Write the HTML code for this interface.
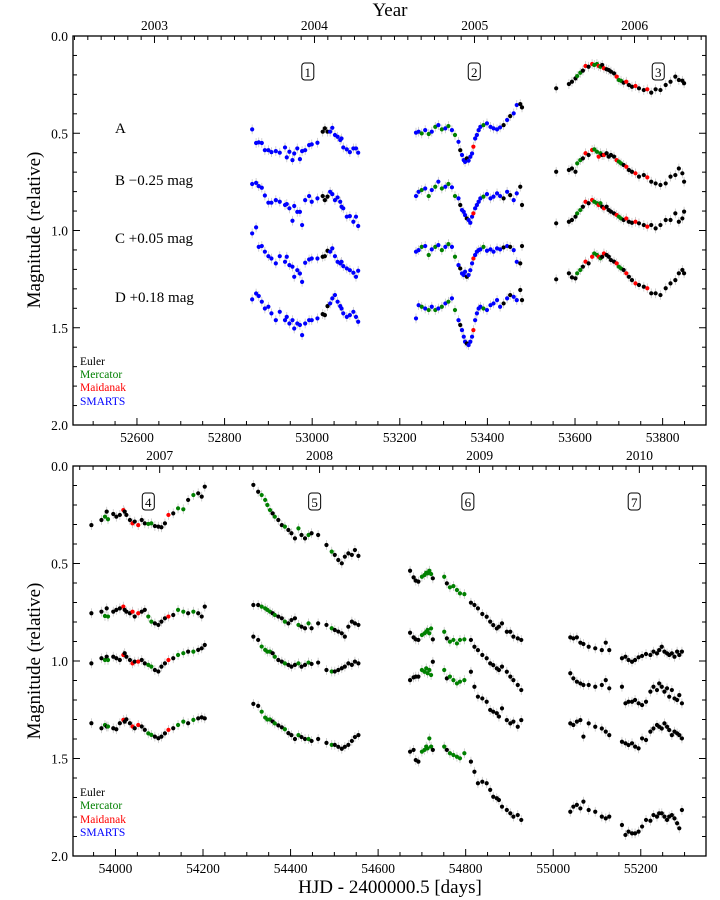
<!DOCTYPE html>
<html><head><meta charset="utf-8"><style>
body{margin:0;background:#fff;}
svg{display:block;font-family:"Liberation Serif",serif;}
</style></head><body>
<svg id="chart" width="720" height="900" viewBox="0 0 720 900" xmlns="http://www.w3.org/2000/svg">
<text x="390" y="16" font-size="19" text-anchor="middle">Year</text>
<text x="390" y="893" font-size="19" text-anchor="middle">HJD - 2400000.5 [days]</text>
<text transform="translate(40,230) rotate(-90)" font-size="19" text-anchor="middle">Magnitude (relative)</text>
<text transform="translate(40,661) rotate(-90)" font-size="19" text-anchor="middle">Magnitude (relative)</text>
<g font-size="15">
<text x="115" y="133">A</text>
<text x="115" y="185">B −0.25 mag</text>
<text x="115" y="243">C +0.05 mag</text>
<text x="115" y="302">D +0.18 mag</text>
</g>
<g font-size="11.5">
<text x="80" y="365" fill="#000">Euler</text>
<text x="80" y="378" fill="#008000">Mercator</text>
<text x="80" y="391" fill="#ff0000">Maidanak</text>
<text x="80" y="405" fill="#0000ff">SMARTS</text>
</g>
<g font-size="11.5">
<text x="80" y="796" fill="#000">Euler</text>
<text x="80" y="809" fill="#008000">Mercator</text>
<text x="80" y="823" fill="#ff0000">Maidanak</text>
<text x="80" y="836" fill="#0000ff">SMARTS</text>
</g>
</svg>
<script>
const instColors = ["#000000","#008000","#ff0000","#0000ff"];
const yTickLabels = ["0.0","0.5","1.0","1.5","2.0"];
const topXTicks = [52600,52800,53000,53200,53400,53600,53800];
const botXTicks = [54000,54200,54400,54600,54800,55000,55200];
const topYears = ["2003","2004","2005","2006"];
const topYearDays = [52640,53005,53371,53736];
const botYears = ["2007","2008","2009","2010"];
const botYearDays = [54101,54466,54832,55197];
const topSeasonLabels = ["1","2","3"];
const topSeasonLabelDays = [52990,53370,53790];
const botSeasonLabels = ["4","5","6","7"];
const botSeasonLabelDays = [54075,54455,54805,55185];

const s1Days=[52863,52872,52878,52885,52892,52900,52907,52917,52926,52938,52942,52948,52955,52959,52966,52972,52977,52984,52993,52999,53012,53024,53029,53035,53041,53046,53052,53058,53064,53067,53071,53079,53086,53094,53100,53105];
const s1Inst=[3,3,3,3,3,3,3,3,3,3,3,3,3,3,3,3,3,3,3,3,3,0,0,0,3,3,3,3,3,3,3,3,3,3,3,3];
const s1A=[0.48,0.55,0.547,0.55,0.587,0.587,0.597,0.592,0.60,0.573,0.624,0.595,0.638,0.604,0.578,0.633,0.592,0.587,0.561,0.557,0.549,0.492,0.475,0.492,0.492,0.472,0.509,0.518,0.535,0.527,0.573,0.583,0.597,0.578,0.578,0.60];
const s1B=[0.761,0.755,0.772,0.780,0.820,0.857,0.857,0.844,0.852,0.869,0.864,0.886,0.950,0.874,0.904,0.904,0.972,0.844,0.823,0.852,0.835,0.823,0.844,0.826,0.801,0.813,0.844,0.830,0.852,0.878,0.886,0.929,0.926,0.955,0.929,0.977];
const s1C=[1.015,0.984,1.084,1.080,1.109,1.132,1.144,1.169,1.132,1.161,1.135,1.178,1.186,1.238,1.204,1.221,1.264,1.166,1.149,1.144,1.144,1.135,1.132,1.104,1.109,1.092,1.132,1.161,1.169,1.161,1.183,1.195,1.204,1.217,1.238,1.207];
const s1D=[1.354,1.324,1.337,1.366,1.401,1.392,1.426,1.461,1.418,1.461,1.444,1.478,1.461,1.504,1.478,1.486,1.538,1.478,1.461,1.461,1.452,1.430,1.435,1.389,1.375,1.349,1.332,1.366,1.389,1.401,1.426,1.444,1.435,1.418,1.444,1.469];

const s2Days=[53237,53243,53250,53258,53266,53273,53281,53288,53296,53304,53311,53319,53326,53334,53338,53342,53346,53349,53353,53357,53361,53365,53368,53372,53376,53380,53384,53391,53399,53407,53414,53422,53429,53437,53445,53452,53460,53467,53475,53479];
const s2Inst=[3,3,1,3,1,3,1,3,1,3,1,3,1,3,0,3,3,3,0,3,3,3,2,3,3,3,3,1,3,3,3,3,3,0,3,0,3,3,0,0];
const s2A=[0.497,0.492,0.501,0.484,0.504,0.492,0.467,0.458,0.480,0.475,0.463,0.484,0.509,0.544,0.587,0.612,0.638,0.647,0.629,0.641,0.621,0.604,0.569,0.527,0.509,0.484,0.467,0.458,0.449,0.467,0.475,0.480,0.470,0.458,0.432,0.412,0.398,0.355,0.350,0.367];
const s2B=[0.823,0.801,0.792,0.784,0.823,0.792,0.775,0.749,0.784,0.775,0.761,0.778,0.823,0.835,0.869,0.895,0.904,0.921,0.938,0.946,0.960,0.929,0.912,0.886,0.869,0.852,0.835,0.826,0.813,0.835,0.826,0.809,0.823,0.835,0.801,0.818,0.844,0.809,0.775,0.869];
const s2C=[1.109,1.101,1.084,1.080,1.126,1.097,1.084,1.075,1.101,1.084,1.070,1.084,1.135,1.178,1.195,1.221,1.229,1.212,1.238,1.229,1.204,1.169,1.144,1.126,1.109,1.101,1.097,1.084,1.104,1.097,1.109,1.092,1.097,1.087,1.080,1.084,1.101,1.161,1.169,1.080];
const s2D=[1.452,1.384,1.392,1.401,1.409,1.392,1.409,1.401,1.392,1.375,1.366,1.349,1.409,1.461,1.486,1.512,1.546,1.572,1.581,1.589,1.572,1.546,1.512,1.461,1.426,1.401,1.392,1.401,1.409,1.384,1.375,1.358,1.392,1.375,1.349,1.332,1.341,1.358,1.306,1.358];

const s3Days=[53557,53586,53593,53601,53605,53612,53618,53624,53631,53639,53644,53650,53654,53658,53662,53666,53672,53677,53682,53689,53695,53700,53705,53711,53717,53723,53730,53738,53746,53757,53765,53774,53784,53795,53807,53818,53829,53837,53845,53849];
const s3Inst=[0,0,0,0,1,1,0,2,0,2,1,1,2,1,0,2,0,0,0,0,2,1,1,0,2,0,0,2,0,0,2,0,0,0,0,0,0,0,0,0];
const s3A=[0.269,0.247,0.235,0.218,0.206,0.189,0.178,0.154,0.158,0.144,0.149,0.144,0.154,0.158,0.149,0.166,0.171,0.175,0.183,0.192,0.209,0.226,0.230,0.240,0.235,0.252,0.261,0.257,0.269,0.278,0.274,0.291,0.274,0.278,0.252,0.235,0.209,0.226,0.230,0.243];
const s3B=[0.698,0.689,0.681,0.698,0.655,0.638,0.629,0.603,0.612,0.586,0.583,0.595,0.620,0.603,0.612,0.612,0.603,0.620,0.612,0.620,0.638,0.646,0.655,0.663,0.672,0.689,0.698,0.706,0.723,0.715,0.727,0.749,0.758,0.766,0.758,0.723,0.715,0.681,0.706,0.749];
const s3C=[0.963,0.955,0.946,0.929,0.912,0.895,0.878,0.852,0.860,0.843,0.852,0.860,0.869,0.860,0.878,0.886,0.878,0.895,0.903,0.912,0.920,0.929,0.938,0.946,0.938,0.955,0.960,0.955,0.963,0.972,0.980,0.972,0.989,0.972,0.946,0.946,0.912,0.955,0.938,0.903];
const s3D=[1.251,1.220,1.241,1.246,1.220,1.203,1.186,1.160,1.169,1.135,1.118,1.126,1.135,1.143,1.135,1.118,1.126,1.135,1.152,1.160,1.169,1.186,1.195,1.203,1.220,1.238,1.255,1.272,1.280,1.289,1.297,1.323,1.323,1.332,1.297,1.272,1.255,1.220,1.203,1.220];

const s4Days=[53945,53968,53976,53980,53983,53995,54002,54010,54018,54021,54025,54033,54039,54044,54052,54060,54067,54075,54082,54090,54098,54105,54113,54121,54132,54143,54155,54166,54178,54189,54197,54204];
const s4Inst=[0,0,1,0,1,0,0,0,2,0,0,0,2,0,2,0,0,1,1,0,0,0,0,2,0,1,1,0,1,0,0,0];
const s4A=[0.303,0.277,0.260,0.234,0.273,0.246,0.260,0.251,0.226,0.234,0.251,0.277,0.294,0.285,0.303,0.277,0.294,0.297,0.294,0.308,0.311,0.314,0.294,0.251,0.243,0.217,0.222,0.174,0.149,0.140,0.157,0.106];
const s4B=[0.755,0.747,0.769,0.730,0.772,0.747,0.738,0.730,0.721,0.738,0.747,0.755,0.747,0.772,0.755,0.747,0.738,0.772,0.798,0.807,0.815,0.798,0.781,0.772,0.764,0.738,0.747,0.755,0.747,0.755,0.772,0.721];
const s4C=[1.012,0.986,0.995,0.978,0.995,0.978,0.986,0.995,0.969,0.960,0.978,0.995,1.012,1.003,1.003,0.995,1.012,1.020,1.029,1.046,1.054,1.029,1.012,0.995,0.986,0.969,0.960,0.952,0.952,0.943,0.935,0.918];
const s4D=[1.319,1.345,1.328,1.336,1.336,1.345,1.350,1.319,1.302,1.311,1.299,1.319,1.336,1.345,1.328,1.336,1.353,1.371,1.379,1.388,1.396,1.388,1.371,1.353,1.345,1.328,1.311,1.319,1.302,1.294,1.289,1.294];

const s5Days=[54315,54326,54334,54342,54347,54353,54359,54364,54372,54380,54387,54395,54402,54410,54418,54425,54433,54441,54448,54463,54482,54494,54501,54509,54517,54524,54532,54540,54547,54555];
const s5Inst=[0,0,1,1,1,1,0,1,0,0,1,0,0,0,1,0,0,1,0,0,0,1,0,0,0,0,0,0,0,0];
const s5A=[0.097,0.132,0.149,0.174,0.200,0.226,0.243,0.260,0.277,0.303,0.311,0.328,0.345,0.371,0.320,0.354,0.371,0.354,0.345,0.354,0.405,0.439,0.456,0.482,0.499,0.465,0.448,0.456,0.431,0.461];
const s5B=[0.713,0.713,0.721,0.730,0.738,0.747,0.755,0.764,0.772,0.781,0.798,0.807,0.790,0.781,0.815,0.824,0.832,0.807,0.832,0.807,0.815,0.832,0.841,0.849,0.858,0.875,0.824,0.798,0.807,0.815];
const s5C=[0.875,0.892,0.926,0.943,0.952,0.952,0.960,0.978,0.995,1.003,1.012,1.020,1.029,1.020,1.012,1.029,1.020,1.008,1.015,1.008,1.046,1.054,1.054,1.046,1.037,1.029,1.012,1.020,1.003,1.012];
const s5D=[1.22,1.23,1.26,1.29,1.30,1.30,1.31,1.32,1.33,1.34,1.35,1.37,1.38,1.40,1.38,1.39,1.40,1.40,1.41,1.40,1.42,1.43,1.43,1.44,1.45,1.44,1.43,1.41,1.39,1.38];

const s6Days=[54673,54681,54686,54692,54700,54706,54710,54713,54717,54721,54725,54751,54757,54764,54772,54780,54787,54797,54812,54820,54828,54838,54848,54856,54863,54871,54876,54883,54894,54902,54909,54919,54927];
const s6Inst=[0,0,0,0,1,1,1,1,1,1,0,1,0,1,1,1,1,1,0,0,0,0,0,0,0,0,0,0,0,0,0,0,0];
const s6A=[0.537,0.571,0.588,0.593,0.568,0.559,0.547,0.551,0.537,0.554,0.576,0.568,0.602,0.622,0.616,0.636,0.653,0.657,0.701,0.713,0.730,0.759,0.773,0.798,0.816,0.833,0.824,0.807,0.850,0.850,0.875,0.884,0.892];
const s6B=[0.855,0.879,0.889,0.892,0.867,0.858,0.850,0.841,0.858,0.833,0.889,0.850,0.884,0.901,0.892,0.910,0.892,0.889,0.892,0.927,0.944,0.969,0.986,1.012,1.021,1.038,1.046,1.029,1.055,1.080,1.098,1.123,1.149];
const s6C=[1.098,1.084,1.080,1.080,1.046,1.055,1.038,1.063,1.046,1.072,1.004,1.046,1.089,1.080,1.098,1.115,1.106,1.098,1.055,1.132,1.183,1.192,1.209,1.251,1.260,1.268,1.285,1.243,1.303,1.320,1.311,1.337,1.303];
const s6D=[1.465,1.456,1.508,1.516,1.465,1.456,1.439,1.448,1.397,1.439,1.456,1.439,1.456,1.473,1.482,1.491,1.499,1.473,1.516,1.568,1.627,1.619,1.627,1.661,1.696,1.704,1.713,1.747,1.764,1.781,1.798,1.790,1.815];

const s7Days=[55039,55046,55054,55062,55069,55081,55096,55111,55120,55128,55157,55165,55172,55180,55187,55195,55203,55212,55222,55229,55237,55242,55248,55254,55260,55265,55271,55277,55283,55288,55294];
const s7Inst=[0,0,0,0,0,0,0,0,0,0,0,0,0,0,0,0,0,0,0,0,0,0,0,0,0,0,0,0,0,0,0];
const s7A=[0.879,0.884,0.879,0.906,0.913,0.927,0.935,0.944,0.906,0.944,0.986,0.978,0.995,1.004,0.995,0.981,0.974,0.964,0.969,0.952,0.961,0.944,0.927,0.952,0.961,0.969,0.961,0.978,0.952,0.969,0.952];
const s7B=[1.063,1.089,1.106,1.115,1.123,1.123,1.132,1.123,1.098,1.140,1.132,1.217,1.209,1.209,1.200,1.217,1.226,1.209,1.157,1.132,1.149,1.115,1.132,1.157,1.140,1.183,1.149,1.192,1.200,1.175,1.217];
const s7C=[1.320,1.328,1.311,1.303,1.388,1.320,1.337,1.346,1.362,1.380,1.414,1.422,1.431,1.422,1.439,1.448,1.397,1.405,1.362,1.346,1.328,1.337,1.346,1.320,1.337,1.354,1.380,1.362,1.371,1.380,1.397];
const s7D=[1.773,1.747,1.738,1.756,1.721,1.764,1.773,1.798,1.807,1.798,1.841,1.892,1.875,1.884,1.884,1.875,1.849,1.815,1.819,1.790,1.798,1.781,1.781,1.798,1.815,1.798,1.790,1.807,1.832,1.858,1.764];

const NS="http://www.w3.org/2000/svg";
const svg=document.getElementById("chart");
function mk(tag,attrs,parent){const e=document.createElementNS(NS,tag);for(const k in attrs)e.setAttribute(k,attrs[k]);(parent||svg).appendChild(e);return e;}

const panels=[
 {name:"top",x0:73,x1:706,y0:36,y1:425,d0:52454,d1:53899,ticks:topXTicks,years:topYears,yearDays:topYearDays,sl:topSeasonLabels,sld:topSeasonLabelDays,
  seasons:[[s1Days,s1Inst,[s1A,s1B,s1C,s1D]],[s2Days,s2Inst,[s2A,s2B,s2C,s2D]],[s3Days,s3Inst,[s3A,s3B,s3C,s3D]]]},
 {name:"bottom",x0:73,x1:706,y0:466,y1:856,d0:53903,d1:55349,ticks:botXTicks,years:botYears,yearDays:botYearDays,sl:botSeasonLabels,sld:botSeasonLabelDays,
  seasons:[[s4Days,s4Inst,[s4A,s4B,s4C,s4D]],[s5Days,s5Inst,[s5A,s5B,s5C,s5D]],[s6Days,s6Inst,[s6A,s6B,s6C,s6D]],[s7Days,s7Inst,[s7A,s7B,s7C,s7D]]]}
];

panels.forEach(p=>{
  const xs=d=>p.x0+(d-p.d0)/(p.d1-p.d0)*(p.x1-p.x0);
  const ys=m=>p.y0+m/2*(p.y1-p.y0);
  const g=mk("g",{});
  
  
  for(let d=Math.ceil(p.d0/50)*50; d<=p.d1; d+=50){
    const major=d%200===0;const x=xs(d);const L=major?7:4;
    const t=mk("line",{x1:x,x2:x,y1:p.y1,y2:p.y1-L,stroke:"#000","stroke-width":1},g);
    
    
  }
  p.ticks.forEach(d=>{
    const t=mk("text",{x:xs(d),y:p.y1+17,"font-size":13.5,"text-anchor":"middle"},g);t.textContent=d;
    
    
  });
  const firstYear=p.yearDays[0]-365.25;
  for(let k=0;k<12*6;k++){
    const d=firstYear+k*365.25/12; if(d<p.d0||d>p.d1)continue;
    const major=k%12===0;const x=xs(d);
    const t=mk("line",{x1:x,x2:x,y1:p.y0,y2:p.y0+(major?7:4),stroke:"#000","stroke-width":1},g);
    
    
  }
  p.years.forEach((y,i)=>{
    const t=mk("text",{x:xs(p.yearDays[i]),y:p.y0-6,"font-size":13.5,"text-anchor":"middle"},g);t.textContent=y;
    
    
  });
  for(let k=0;k<=20;k++){
    const m=k*0.1;const y=ys(m);const major=k%5===0;const L=major?7:4;
    [[p.x0,p.x0+L],[p.x1,p.x1-L]].forEach(([a,b])=>{
      const t=mk("line",{x1:a,x2:b,y1:y,y2:y,stroke:"#000","stroke-width":1},g);
      
      
    });
  }
  yTickLabels.forEach((s,i)=>{
    const t=mk("text",{x:p.x0-5,y:ys(i*0.5)+5,"font-size":13.5,"text-anchor":"end"},g);t.textContent=s;
    
    
  });
  p.sl.forEach((s,i)=>{
    const x=xs(p.sld[i]);const y=p.y0+36;
    const r=mk("rect",{x:x-6,y:y-9,width:12,height:17,rx:3,fill:"#fff",stroke:"#000","stroke-width":1},g);
    
    
    const t=mk("text",{x:x,y:y+5,"font-size":13,"text-anchor":"middle"},g);t.textContent=s;
    
    
  });
  const eb=mk("g",{stroke:"#c4c4c4","stroke-width":0.8},g);
  
  
  const pts=mk("g",{},g);
  
  
  p.seasons.forEach(([days,inst,curves])=>{
    curves.forEach(mags=>{
      mags.forEach((m,i)=>{
        const x=xs(days[i]),y=ys(m);
        const e1=ys(m-0.025),e2=ys(m+0.025);
        const l=mk("line",{x1:x,x2:x,y1:e1,y2:e2},eb);
        
        
        const c=mk("circle",{cx:x,cy:y,r:2.1,fill:instColors[inst[i]]},pts);
        
        
      });
    });
  });
  const fr=mk("rect",{x:p.x0,y:p.y0,width:p.x1-p.x0,height:p.y1-p.y0,fill:"none",stroke:"#000","stroke-width":1.3},g);
  
  
});
</script>
</body></html>
